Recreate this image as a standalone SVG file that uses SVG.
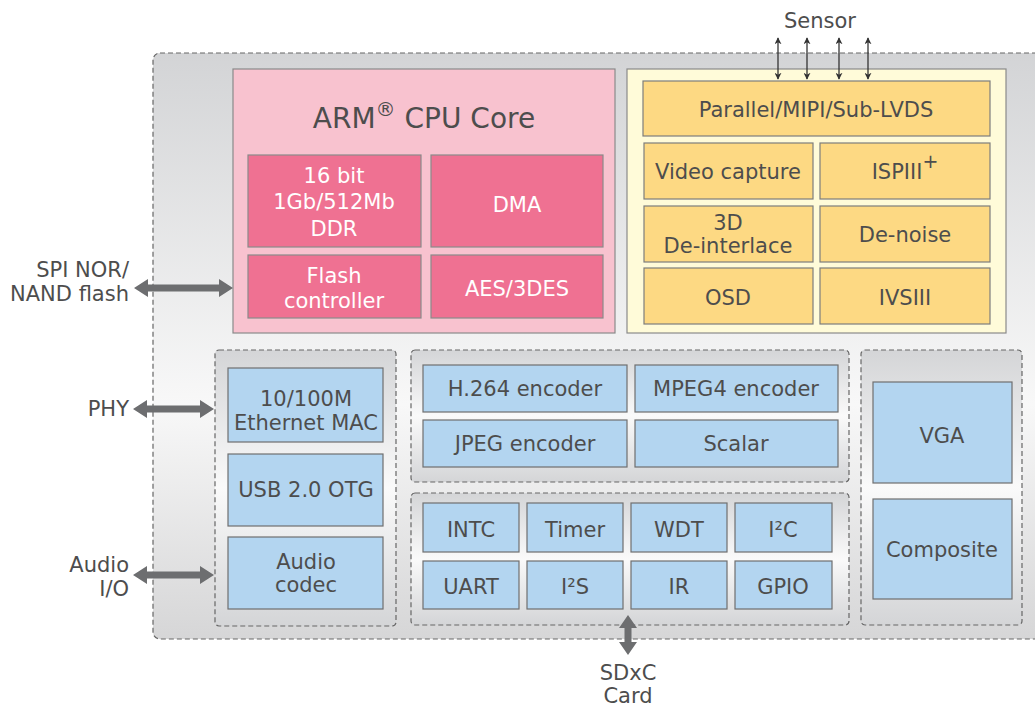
<svg xmlns="http://www.w3.org/2000/svg" width="1035" height="706" viewBox="0 0 1035 706">
<defs>
<linearGradient id="gOuter" x1="0" y1="0" x2="0" y2="1">
<stop offset="0" stop-color="#d3d4d6"/>
<stop offset="0.6" stop-color="#f8f8f8"/>
<stop offset="1" stop-color="#d6d6d7"/>
</linearGradient>
<linearGradient id="gInner" x1="0" y1="0" x2="0" y2="1">
<stop offset="0" stop-color="#d4d5d7"/>
<stop offset="0.5" stop-color="#fafafa"/>
<stop offset="1" stop-color="#d4d5d7"/>
</linearGradient>
<marker id="ah" viewBox="0 0 10 10" refX="9" refY="5" markerWidth="7" markerHeight="7" orient="auto-start-reverse" markerUnits="userSpaceOnUse">
<path d="M0,0 L10,5 L0,10 L3,5 z" fill="#333"/>
</marker>
</defs>
<style>
text{font-family:"DejaVu Sans","Liberation Sans",sans-serif;font-size:21px;fill:#4d4d4d;text-anchor:middle}
.w{fill:#ffffff}
.r{text-anchor:end}
.dash{stroke:#666;stroke-width:1.2;stroke-dasharray:5,3}
.pk{fill:#ef7192;stroke:#8a8a8a;stroke-width:1.2}
.yl{fill:#fdd983;stroke:#7d7d7d;stroke-width:1.2}
.bl{fill:#b3d5f0;stroke:#6f6f6f;stroke-width:1.2}
.arr{fill:#6d6e70}
.thin{stroke:#333;stroke-width:1.3;fill:none}
</style>
<rect id="outer" x="153" y="53" width="900" height="586" rx="7" fill="url(#gOuter)" class="dash"/>

<g id="arm">
<rect x="233" y="69" width="382" height="264" fill="#f8c2cf" stroke="#8a8a8a" stroke-width="1.2"/>
<text x="424" y="128" style="font-size:28px">ARM<tspan baseline-shift="super" style="font-size:20px">®</tspan> CPU Core</text>
</g>
<g id="ddr"><rect class="pk" x="248" y="155" width="173" height="92"/>
<text class="w" x="334" y="183">16 bit</text><text class="w" x="334" y="209">1Gb/512Mb</text><text class="w" x="334" y="236">DDR</text></g>
<g id="dma"><rect class="pk" x="431" y="155" width="172" height="92"/><text class="w" x="517" y="212">DMA</text></g>
<g id="flash"><rect class="pk" x="248" y="255" width="173" height="63"/>
<text class="w" x="334" y="283">Flash</text><text class="w" x="334" y="308">controller</text></g>
<g id="aes"><rect class="pk" x="431" y="255" width="172" height="63"/><text class="w" x="517" y="296">AES/3DES</text></g>

<g id="video">
<rect x="627" y="69" width="379" height="264" fill="#fffbd9" stroke="#8a8a8a" stroke-width="1.2"/>
</g>
<g id="parallel"><rect class="yl" x="643" y="81" width="347" height="55"/><text x="816" y="117">Parallel/MIPI/Sub-LVDS</text></g>
<g id="vcap"><rect class="yl" x="644" y="143" width="169" height="56"/><text x="728" y="179">Video capture</text></g>
<g id="isp"><rect class="yl" x="820" y="143" width="170" height="56"/><text x="905" y="179">ISPIII<tspan baseline-shift="super" style="font-size:19px">+</tspan></text></g>
<g id="deint"><rect class="yl" x="644" y="206" width="169" height="56"/><text x="728" y="230">3D</text><text x="728" y="253">De-interlace</text></g>
<g id="denoise"><rect class="yl" x="820" y="206" width="170" height="56"/><text x="905" y="242">De-noise</text></g>
<g id="osd"><rect class="yl" x="644" y="268" width="169" height="56"/><text x="728" y="305">OSD</text></g>
<g id="ivs"><rect class="yl" x="820" y="268" width="170" height="56"/><text x="905" y="305">IVSIII</text></g>

<g id="ioGroup"><rect x="215" y="350" width="181" height="276" rx="4" fill="url(#gInner)" class="dash"/></g>
<g id="eth"><rect class="bl" x="228" y="368" width="155" height="74"/><text x="306" y="406">10/100M</text><text x="306" y="430">Ethernet MAC</text></g>
<g id="usb"><rect class="bl" x="228" y="454" width="155" height="72"/><text x="306" y="497">USB 2.0 OTG</text></g>
<g id="audio"><rect class="bl" x="228" y="537" width="155" height="72"/><text x="306" y="569">Audio</text><text x="306" y="592">codec</text></g>

<g id="encGroup"><rect x="411" y="350" width="438" height="132" rx="4" fill="url(#gInner)" class="dash"/></g>
<g id="h264"><rect class="bl" x="423" y="365" width="204" height="47"/><text x="525" y="396">H.264 encoder</text></g>
<g id="mpeg4"><rect class="bl" x="635" y="365" width="203" height="47"/><text x="736" y="396">MPEG4 encoder</text></g>
<g id="jpeg"><rect class="bl" x="423" y="420" width="204" height="47"/><text x="525" y="451">JPEG encoder</text></g>
<g id="scalar"><rect class="bl" x="635" y="420" width="203" height="47"/><text x="736" y="451">Scalar</text></g>

<g id="periphGroup"><rect x="411" y="493" width="438" height="132" rx="4" fill="url(#gInner)" class="dash"/></g>
<g id="intc"><rect class="bl" x="423" y="503" width="96" height="49"/><text x="471" y="537">INTC</text></g>
<g id="timer"><rect class="bl" x="527" y="503" width="96" height="49"/><text x="575" y="537">Timer</text></g>
<g id="wdt"><rect class="bl" x="631" y="503" width="96" height="49"/><text x="679" y="537">WDT</text></g>
<g id="i2c"><rect class="bl" x="735" y="503" width="97" height="49"/><text x="783" y="537">I²C</text></g>
<g id="uart"><rect class="bl" x="423" y="561" width="96" height="48"/><text x="471" y="594">UART</text></g>
<g id="i2s"><rect class="bl" x="527" y="561" width="96" height="48"/><text x="575" y="594">I²S</text></g>
<g id="ir"><rect class="bl" x="631" y="561" width="96" height="48"/><text x="679" y="594">IR</text></g>
<g id="gpio"><rect class="bl" x="735" y="561" width="97" height="48"/><text x="783" y="594">GPIO</text></g>

<g id="dispGroup"><rect x="861" y="350" width="161" height="275" rx="4" fill="url(#gInner)" class="dash"/></g>
<g id="vga"><rect class="bl" x="873" y="382" width="139" height="101"/><text x="942" y="443">VGA</text></g>
<g id="composite"><rect class="bl" x="873" y="499" width="139" height="100"/><text x="942" y="557">Composite</text></g>

<g id="labels">
<text x="820" y="28">Sensor</text>
<text class="r" x="129" y="277">SPI NOR/</text>
<text class="r" x="129" y="301">NAND flash</text>
<text class="r" x="129" y="416">PHY</text>
<text class="r" x="129" y="572">Audio</text>
<text class="r" x="129" y="596">I/O</text>
<text x="628" y="680">SDxC</text>
<text x="628" y="703">Card</text>
</g>

<g id="connectors">
<line class="thin" x1="778" y1="38" x2="778" y2="79" marker-start="url(#ah)" marker-end="url(#ah)"/>
<line class="thin" x1="807" y1="38" x2="807" y2="79" marker-start="url(#ah)" marker-end="url(#ah)"/>
<line class="thin" x1="839" y1="38" x2="839" y2="79" marker-start="url(#ah)" marker-end="url(#ah)"/>
<line class="thin" x1="868" y1="38" x2="868" y2="79" marker-start="url(#ah)" marker-end="url(#ah)"/>
<polygon class="arr" points="134,288 148,279 148,284.5 219,284.5 219,279 233,288 219,297 219,291.5 148,291.5 148,297"/>
<polygon class="arr" points="133,409 147,400 147,405.5 200,405.5 200,400 214,409 200,418 200,412.5 147,412.5 147,418"/>
<polygon class="arr" points="133,575 147,566 147,571.5 200,571.5 200,566 214,575 200,584 200,578.5 147,578.5 147,584"/>
<polygon class="arr" points="628,615 637,628 631.5,628 631.5,642 637,642 628,655 619,642 624.5,642 624.5,628 619,628"/>
</g>
</svg>
